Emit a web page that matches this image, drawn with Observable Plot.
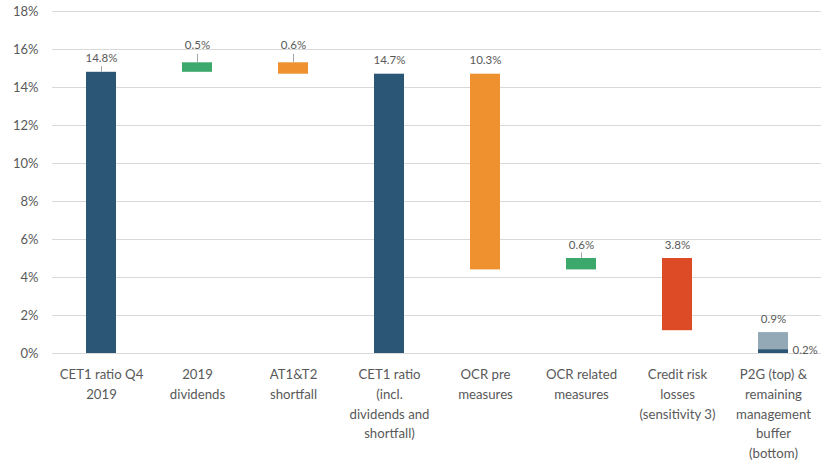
<!DOCTYPE html>
<html>
<head>
<meta charset="utf-8">
<script src="https://cdn.jsdelivr.net/npm/d3@7"></script>
<script src="https://cdn.jsdelivr.net/npm/@observablehq/plot@0.6"></script>
<style>
  html, body { margin: 0; padding: 0; background: #fff; }
  #chart svg { display: block; }
</style>
</head>
<body>
<div id="chart"></div>
<script>
// Categories (x axis labels)
const categories = [
  "CET1 ratio Q4\n2019",
  "2019\ndividends",
  "AT1&T2\nshortfall",
  "CET1 ratio\n(incl.\ndividends and\nshortfall)",
  "OCR pre\nmeasures",
  "OCR related\nmeasures",
  "Credit risk\nlosses\n(sensitivity 3)",
  "P2G (top) &\nremaining\nmanagement\nbuffer\n(bottom)"
];

// Bar segments (category index, start %, end %)
const segCategory = [0, 1, 2, 3, 4, 5, 6, 7, 7];
const segStart    = [0, 14.8, 14.7, 0, 4.4, 4.4, 1.2, 0.2, 0];
const segEnd      = [14.8, 15.3, 15.3, 14.7, 14.7, 5.0, 5.0, 1.1, 0.2];
const segLabel    = ["14.8%", "0.5%", "0.6%", "14.7%", "10.3%", "0.6%", "3.8%", "0.9%", "0.2%"];
const segKind     = ["total", "increase", "shortfall", "total", "ocr", "increase", "loss", "p2g", "total"];

// Y axis ticks
const yTicks = [0, 2, 4, 6, 8, 10, 12, 14, 16, 18];

const colorMap = {
  total: "#2b5676",
  increase: "#3ca86c",
  shortfall: "#ef912f",
  ocr: "#ef912f",
  loss: "#dc4a26",
  p2g: "#93a9b5"
};

const segs = segCategory.map((c, i) => ({
  cat: categories[c],
  y1: segStart[i],
  y2: segEnd[i],
  top: Math.max(segStart[i], segEnd[i]),
  label: segLabel[i],
  kind: segKind[i],
  idx: i
}));

const leader = new Set([0, 1, 2, 5]);
const raised = new Set([1, 2]);
const topLabels = segs.filter(d => d.idx !== 8);
const sideLabels = segs.filter(d => d.idx === 8);

const font = "Lato, 'Open Sans', sans-serif";

const plot = Plot.plot({
  width: 821,
  height: 461,
  marginTop: 11,
  marginBottom: 108,
  marginLeft: 52,
  marginRight: 0,
  style: { fontFamily: font, background: "#fff" },
  x: { domain: categories, paddingInner: 0.69, paddingOuter: 0.33, label: null },
  y: { domain: [0, 18], label: null },
  marks: [
    Plot.gridY(yTicks, { stroke: "#d9d9d9", strokeOpacity: 1, strokeWidth: 1 }),
    Plot.axisY(yTicks, {
      tickSize: 0, tickPadding: 14, fontSize: 13, fill: "#595959",
      tickFormat: d => d + "%", label: null
    }),
    Plot.axisX({
      tickSize: 0, tickPadding: 12, fontSize: 13.2, fill: "#595959",
      lineHeight: 1.49, label: null
    }),
    Plot.barY(segs, {
      x: "cat", y1: "y1", y2: "y2",
      fill: d => colorMap[d.kind]
    }),
    Plot.ruleX(segs.filter(d => leader.has(d.idx)), {
      x: "cat", y1: "top", y2: d => d.top + (raised.has(d.idx) ? 0.45 : 0.3),
      stroke: "#a6a6a6", strokeWidth: 1
    }),
    Plot.text(topLabels.filter(d => !raised.has(d.idx)), {
      x: "cat", y: "top", text: "label",
      fontSize: 11.5, fill: "#595959",
      lineAnchor: "bottom", dy: -10
    }),
    Plot.text(topLabels.filter(d => raised.has(d.idx)), {
      x: "cat", y: "top", text: "label",
      fontSize: 11.5, fill: "#595959",
      lineAnchor: "bottom", dy: -14
    }),
    Plot.text(sideLabels, {
      x: "cat", y: "y2", text: "label",
      fontSize: 11.5, fill: "#595959",
      textAnchor: "start", dx: 19, dy: 1
    })
  ]
});

document.getElementById("chart").appendChild(plot);
</script>
</body>
</html>
